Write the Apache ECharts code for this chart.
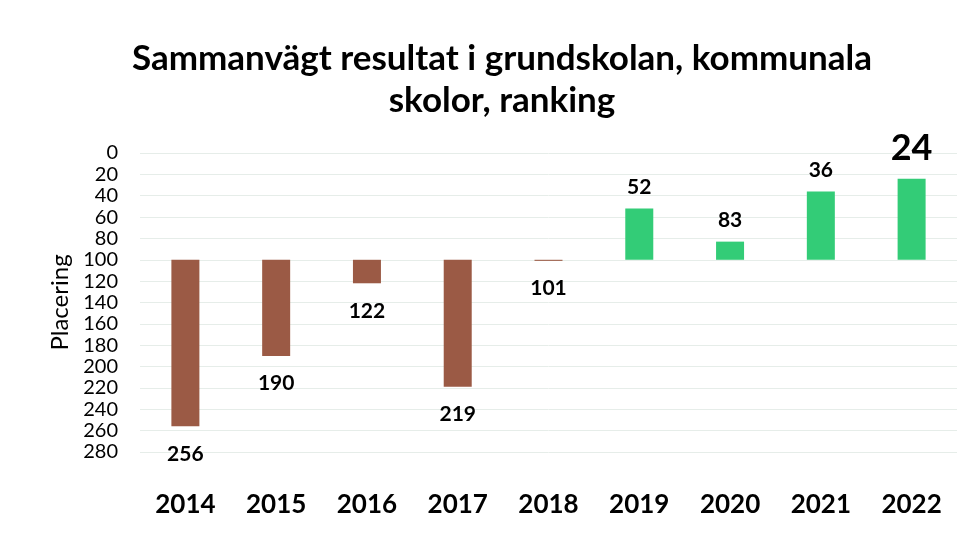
<!DOCTYPE html>
<html><head><meta charset="utf-8">
<script src="https://cdn.jsdelivr.net/npm/echarts@6/dist/echarts.min.js"></script>
<style>html,body{margin:0;padding:0;background:#fff}#c{width:974px;height:536px}</style>
</head><body><div id="c"></div>
<script>
const years = ['2014','2015','2016','2017','2018','2019','2020','2021','2022'];
const ranks = [256, 190, 122, 219, 101, 52, 83, 36, 24];
const baseline = 100;
const yTicks = [0, 20, 40, 60, 80, 100, 120, 140, 160, 180, 200, 220, 240, 260, 280];
const titleText = 'Sammanvägt resultat i grundskolan, kommunala\nskolor, ranking';
const yName = 'Placering';

const BROWN = '#9b5a45', GREEN = '#33cc77';
const FONT = 'Lato, "Open Sans", sans-serif';

const baseData = ranks.map(v => v > baseline ? baseline : v);
const diffData = ranks.map((v, i) => {
  const worse = v > baseline;
  const last = i === ranks.length - 1;
  return {
    value: worse ? v - baseline : baseline - v,
    itemStyle: { color: worse ? BROWN : GREEN },
    label: {
      show: true,
      position: worse ? 'bottom' : 'top',
      distance: worse ? 17 : (last ? 12 : 11),
      formatter: String(v),
      fontSize: last ? 36 : 21,
      fontWeight: 'bold',
      color: '#000',
      fontFamily: FONT
    }
  };
});

const chart = echarts.init(document.getElementById('c'));
chart.setOption({
  animation: false,
  title: {
    text: titleText, left: 497, top: 33, textAlign: 'center',
    textStyle: { fontFamily: FONT, fontSize: 35, fontWeight: 'bold', color: '#000', lineHeight: 42, align: 'center' }
  },
  grid: { left: 140, right: 17, top: 153, bottom: 84 },
  xAxis: {
    type: 'category', data: years, position: 'bottom',
    axisLine: { show: false, onZero: false }, axisTick: { show: false },
    axisLabel: { margin: 40, fontSize: 26, fontWeight: 'bold', color: '#000', fontFamily: FONT }
  },
  yAxis: {
    type: 'value', inverse: true, min: 0, max: 280, interval: 20,
    name: yName, nameLocation: 'middle', nameGap: 66, nameRotate: 90,
    nameTextStyle: { fontSize: 24, color: '#000', fontFamily: FONT },
    axisLine: { show: false }, axisTick: { show: false },
    axisLabel: { margin: 22, fontSize: 20, color: '#000', fontFamily: FONT,
      formatter: v => yTicks.includes(v) ? String(v) : '' },
    splitLine: { lineStyle: { color: '#e6ede9', width: 1 } }
  },
  series: [
    { type: 'bar', stack: 'r', data: baseData, barWidth: 28,
      itemStyle: { color: 'transparent' }, silent: true },
    { type: 'bar', stack: 'r', data: diffData, barWidth: 28 }
  ]
});
</script></body></html>
